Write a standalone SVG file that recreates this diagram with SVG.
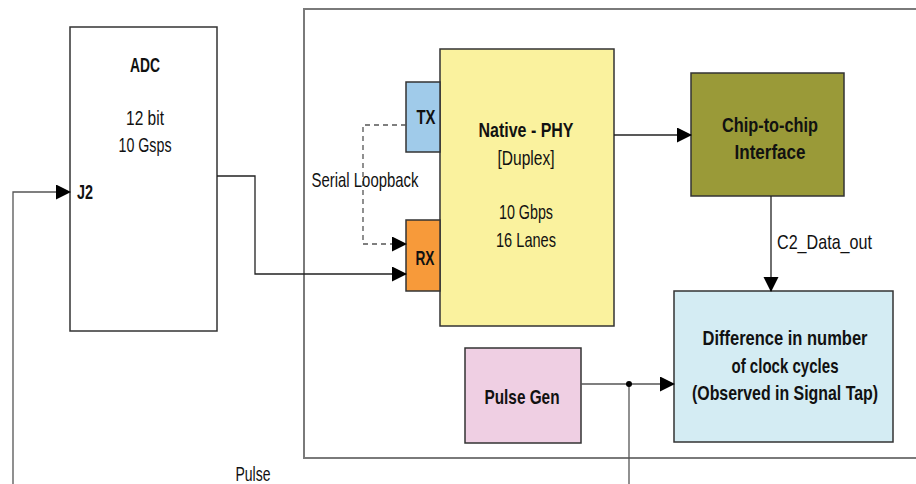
<svg xmlns="http://www.w3.org/2000/svg" width="916" height="484" viewBox="0 0 916 484">
<style>
text{font-family:"Liberation Sans",Arial,sans-serif;font-size:21px;fill:#111;text-anchor:middle;dominant-baseline:central}
.b{font-weight:bold}
.box{stroke:#333;stroke-width:1.5}
.ln{fill:none;stroke:#222;stroke-width:1.3}
.gl{fill:none;stroke:#555;stroke-width:1.3}
.dash{fill:none;stroke:#555;stroke-width:1.3;stroke-dasharray:5,4}
</style>
<defs>
<marker id="ah" markerUnits="userSpaceOnUse" markerWidth="16" markerHeight="16" refX="14" refY="7.5" orient="auto">
<path d="M0,0 L15,7.5 L0,15 Z" fill="#000"/>
</marker>
</defs>
<rect id="container" x="304" y="9" width="620" height="449" fill="none" stroke="#7a7a7a" stroke-width="2"/>
<g id="adc">
<rect class="box" x="70" y="27" width="147" height="304" fill="#fff"/>
<text class="b" x="145" y="64" textLength="30" lengthAdjust="spacingAndGlyphs">ADC</text>
<text x="145" y="117" textLength="38" lengthAdjust="spacingAndGlyphs">12 bit</text>
<text x="145" y="144" textLength="53" lengthAdjust="spacingAndGlyphs">10 Gsps</text>
<text class="b" x="85" y="191" textLength="16" lengthAdjust="spacingAndGlyphs">J2</text>
</g>
<g id="phy">
<rect class="box" x="440" y="49" width="174" height="277" fill="#FAF29E"/>
<text class="b" x="526" y="129" textLength="95" lengthAdjust="spacingAndGlyphs">Native - PHY</text>
<text x="526" y="157" textLength="57" lengthAdjust="spacingAndGlyphs">[Duplex]</text>
<text x="526" y="211" textLength="54" lengthAdjust="spacingAndGlyphs">10 Gbps</text>
<text x="526" y="239" textLength="60" lengthAdjust="spacingAndGlyphs">16 Lanes</text>
</g>
<g id="tx">
<rect class="box" x="406" y="82" width="34" height="70" fill="#A0CBEA"/>
<text class="b" x="426" y="116" textLength="19" lengthAdjust="spacingAndGlyphs">TX</text>
</g>
<g id="rx">
<rect class="box" x="406" y="220" width="34" height="71" fill="#F79A3A"/>
<text class="b" x="425" y="257" textLength="19" lengthAdjust="spacingAndGlyphs">RX</text>
</g>
<g id="chip">
<rect class="box" x="691" y="73" width="153" height="123" fill="#9A9A38"/>
<text class="b" x="770" y="124" textLength="96" lengthAdjust="spacingAndGlyphs">Chip-to-chip</text>
<text class="b" x="770" y="151" textLength="71" lengthAdjust="spacingAndGlyphs">Interface</text>
</g>
<g id="diff">
<rect class="box" x="674" y="291" width="219" height="151" fill="#D4ECF3"/>
<text class="b" x="785" y="337" textLength="165" lengthAdjust="spacingAndGlyphs">Difference in number</text>
<text class="b" x="785" y="365" textLength="107" lengthAdjust="spacingAndGlyphs">of clock cycles</text>
<text class="b" x="785" y="392" textLength="186" lengthAdjust="spacingAndGlyphs">(Observed in Signal Tap)</text>
</g>
<g id="pulsegen">
<rect class="box" x="465" y="348" width="116" height="95" fill="#EFCFE3"/>
<text class="b" x="522" y="396" textLength="75" lengthAdjust="spacingAndGlyphs">Pulse Gen</text>
</g>
<g id="connectors">
<path class="gl" d="M13,484 V192 H70" marker-end="url(#ah)"/>
<path class="ln" d="M217,176 H255 V274 H406" marker-end="url(#ah)"/>
<path class="dash" d="M406,125 H363 V244 H406" marker-end="url(#ah)"/>
<path class="ln" d="M614,135 H691" marker-end="url(#ah)"/>
<path class="ln" d="M771,196 V291" marker-end="url(#ah)"/>
<path class="gl" d="M581,384 H674" marker-end="url(#ah)"/>
<path class="gl" d="M629,384 V484"/>
<circle cx="629" cy="384" r="3" fill="#000"/>
<text x="365" y="179" textLength="107" lengthAdjust="spacingAndGlyphs">Serial Loopback</text>
<text x="777" y="241" style="text-anchor:start" textLength="95" lengthAdjust="spacingAndGlyphs">C2_Data_out</text>
<text x="253" y="473" textLength="35" lengthAdjust="spacingAndGlyphs">Pulse</text>
</g>
</svg>
